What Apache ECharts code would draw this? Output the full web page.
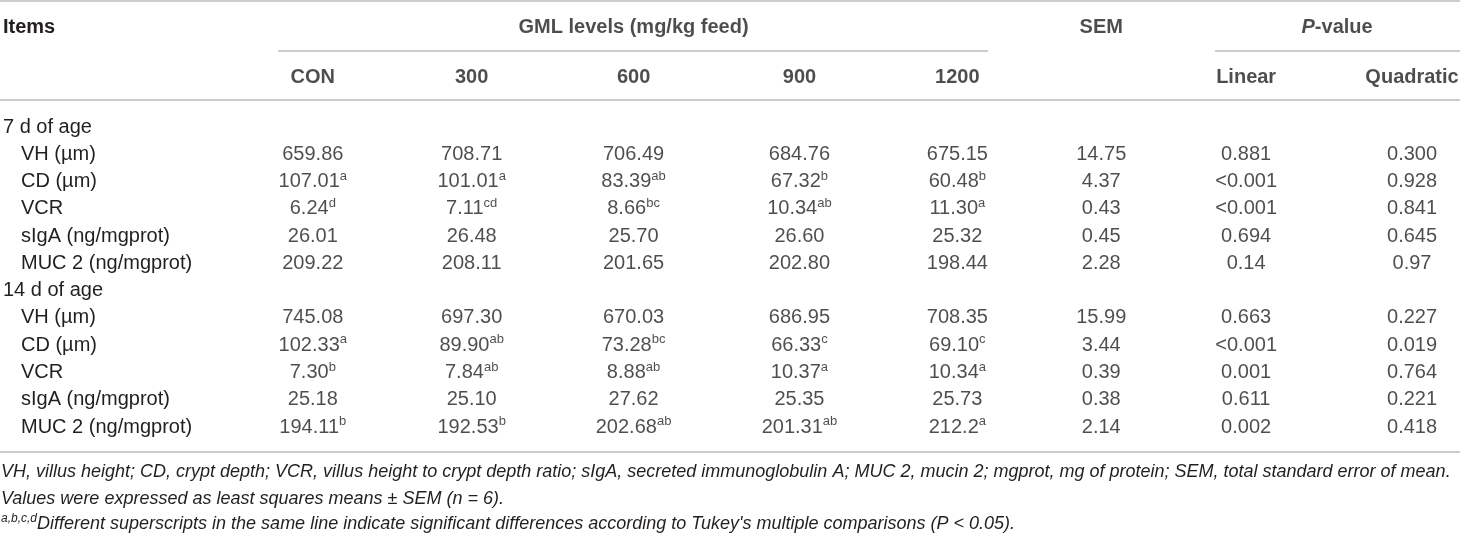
<!DOCTYPE html>
<html>
<head>
<meta charset="utf-8">
<script src="https://cdn.jsdelivr.net/npm/echarts@6/dist/echarts.min.js"></script>
<style>
  html, body { margin: 0; padding: 0; background: #fff; }
  #table { width: 1460px; height: 534px; }
</style>
</head>
<body>
<div id="table"></div>
<script>
// row labels of the table body
const ITEMS = ['7 d of age', 'VH (µm)', 'CD (µm)', 'VCR', 'sIgA (ng/mgprot)', 'MUC 2 (ng/mgprot)',
  '14 d of age', 'VH (µm)', 'CD (µm)', 'VCR', 'sIgA (ng/mgprot)', 'MUC 2 (ng/mgprot)'];
const GROUP_ROWS = [0, 6];

// column headers
const LEVELS = ['CON', '300', '600', '900', '1200'];
const P_TESTS = ['Linear', 'Quadratic'];

// cell values (strings keep the printed decimals), superscripts apart
const CON = [null, '659.86', '107.01', '6.24', '26.01', '209.22', null, '745.08', '102.33', '7.30', '25.18', '194.11'];
const CON_SUP = ['', '', 'a', 'd', '', '', '', '', 'a', 'b', '', 'b'];
const L300 = [null, '708.71', '101.01', '7.11', '26.48', '208.11', null, '697.30', '89.90', '7.84', '25.10', '192.53'];
const L300_SUP = ['', '', 'a', 'cd', '', '', '', '', 'ab', 'ab', '', 'b'];
const L600 = [null, '706.49', '83.39', '8.66', '25.70', '201.65', null, '670.03', '73.28', '8.88', '27.62', '202.68'];
const L600_SUP = ['', '', 'ab', 'bc', '', '', '', '', 'bc', 'ab', '', 'ab'];
const L900 = [null, '684.76', '67.32', '10.34', '26.60', '202.80', null, '686.95', '66.33', '10.37', '25.35', '201.31'];
const L900_SUP = ['', '', 'b', 'ab', '', '', '', '', 'c', 'a', '', 'ab'];
const L1200 = [null, '675.15', '60.48', '11.30', '25.32', '198.44', null, '708.35', '69.10', '10.34', '25.73', '212.2'];
const L1200_SUP = ['', '', 'b', 'a', '', '', '', '', 'c', 'a', '', 'a'];
const SEM = [null, '14.75', '4.37', '0.43', '0.45', '2.28', null, '15.99', '3.44', '0.39', '0.38', '2.14'];
const P_LINEAR = [null, '0.881', '<0.001', '<0.001', '0.694', '0.14', null, '0.663', '<0.001', '0.001', '0.611', '0.002'];
const P_QUAD = [null, '0.300', '0.928', '0.841', '0.645', '0.97', null, '0.227', '0.019', '0.764', '0.221', '0.418'];

const FOOTNOTES = [
  'VH, villus height; CD, crypt depth; VCR, villus height to crypt depth ratio; sIgA, secreted immunoglobulin A; MUC 2, mucin 2; mgprot, mg of protein; SEM, total standard error of mean.',
  'Values were expressed as least squares means ± SEM (n = 6).',
  'Different superscripts in the same line indicate significant differences according to Tukey\'s multiple comparisons (P < 0.05).'
];
const FOOT_SUP = 'a,b,c,d';

// layout
const W = 1460;
const COL_X = [312, 471, 633, 799, 957, 1101, 1246, 1412];
const GML_X = 633, SEM_X = 1101, P_X = 1337;
const FONT = 'Liberation Sans';
const INK = '#231f20';
const RULE = '#9b9b9b';
const FOOT_SIZE = 18;

const columns = [
  [CON, CON_SUP], [L300, L300_SUP], [L600, L600_SUP], [L900, L900_SUP], [L1200, L1200_SUP],
  [SEM, null], [P_LINEAR, null], [P_QUAD, null]
];

const cellRich = {
  n: { fontSize: 20, lineHeight: 24, fontFamily: FONT, color: INK },
  s: { fontSize: 13, lineHeight: 8, verticalAlign: 'top', fontFamily: FONT, color: INK }
};
const headRich = {
  b: { fontSize: 20, fontWeight: 'bold', fontFamily: FONT, color: INK },
  bi: { fontSize: 20, fontWeight: 'bold', fontStyle: 'italic', fontFamily: FONT, color: INK }
};

function textSeries(grid, data, rich) {
  return {
    type: 'scatter',
    xAxisIndex: grid, yAxisIndex: grid,
    symbolSize: 1,
    itemStyle: { color: 'transparent' },
    silent: true,
    data: data,
    label: {
      show: true, position: 'inside', align: 'center', verticalAlign: 'middle',
      formatter: p => p.data[2],
      rich: rich
    }
  };
}

const series = [];

// header row 0: spanning titles, row 1: column names
series.push(textSeries(0, [
  [GML_X, 0, '{b|GML levels (mg/kg feed)}'],
  [SEM_X, 0, '{b|SEM}'],
  [P_X, 0, '{bi|P}{b|-value}']
].concat(LEVELS.map((l, j) => [COL_X[j], 1, '{b|' + l + '}']))
 .concat(P_TESTS.map((t, j) => [COL_X[6 + j], 1, '{b|' + t + '}'])), headRich));

// body cells
columns.forEach(([vals, sups], j) => {
  const data = [];
  vals.forEach((v, i) => {
    if (v === null) return;
    const sup = sups && sups[i] ? '{s|' + sups[i] + '}' : '';
    data.push([COL_X[j], i, '{n|' + v + '}' + sup]);
  });
  series.push(textSeries(1, data, cellRich));
});

const footFont = 'italic ' + FOOT_SIZE + 'px "' + FONT + '"';

const option = {
  animation: false,
  grid: [
    { left: 0, right: 0, top: 2, height: 100 },
    { left: 0, right: 0, top: 113.4, height: 327.3 }
  ],
  xAxis: [
    { type: 'value', gridIndex: 0, min: 0, max: W, show: false },
    { type: 'value', gridIndex: 1, min: 0, max: W, show: false }
  ],
  yAxis: [
    {
      type: 'category', gridIndex: 0, inverse: true, data: ['Items', ''],
      axisLine: { show: false }, axisTick: { show: false }, splitLine: { show: false },
      axisLabel: { inside: true, margin: 2, formatter: v => v ? '{b|' + v + '}' : '', rich: headRich }
    },
    {
      type: 'category', gridIndex: 1, inverse: true, data: ITEMS,
      axisLine: { show: false }, axisTick: { show: false }, splitLine: { show: false },
      axisLabel: {
        inside: true, margin: 2, interval: 0,
        formatter: (v, i) => GROUP_ROWS.indexOf(i) >= 0 ? '{g|' + v + '}' : '{i|' + v + '}',
        rich: {
          g: { fontSize: 20, fontFamily: FONT, color: INK },
          i: { fontSize: 20, fontFamily: FONT, color: INK, padding: [0, 0, 0, 18] }
        }
      }
    }
  ],
  graphic: [
    { type: 'line', shape: { x1: 0, y1: 1, x2: W, y2: 1 }, style: { stroke: RULE, lineWidth: 1.2 } },
    { type: 'line', shape: { x1: 278, y1: 51, x2: 988, y2: 51 }, style: { stroke: RULE, lineWidth: 1.2 } },
    { type: 'line', shape: { x1: 1215, y1: 51, x2: W, y2: 51 }, style: { stroke: RULE, lineWidth: 1.2 } },
    { type: 'line', shape: { x1: 0, y1: 100, x2: W, y2: 100 }, style: { stroke: RULE, lineWidth: 1.2 } },
    { type: 'line', shape: { x1: 0, y1: 452, x2: W, y2: 452 }, style: { stroke: RULE, lineWidth: 1.2 } },
    { type: 'text', style: { x: 1, y: 472, text: FOOTNOTES[0], font: footFont, fill: INK, verticalAlign: 'middle' } },
    { type: 'text', style: { x: 1, y: 499, text: FOOTNOTES[1], font: footFont, fill: INK, verticalAlign: 'middle' } },
    {
      type: 'text',
      style: {
        x: 1, y: 524, verticalAlign: 'middle',
        text: '{s|' + FOOT_SUP + '}{t|' + FOOTNOTES[2] + '}',
        rich: {
          t: { fontSize: FOOT_SIZE, fontStyle: 'italic', fontFamily: FONT, fill: INK, lineHeight: 22 },
          s: { fontSize: 12, fontStyle: 'italic', fontFamily: FONT, fill: INK, lineHeight: 8, verticalAlign: 'top' }
        }
      }
    }
  ],
  series: series
};

const chart = echarts.init(document.getElementById('table'));
chart.setOption(option);
</script>
</body>
</html>
